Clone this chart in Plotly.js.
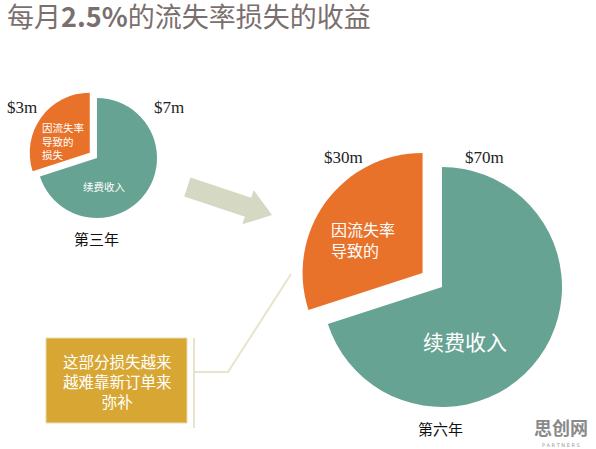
<!DOCTYPE html>
<html>
<head>
<meta charset="utf-8">
<script src="https://cdn.plot.ly/plotly-3.0.1.min.js"></script>
<style>html,body{margin:0;padding:0;background:#fff;}#chart{width:596px;height:449px;}</style>
</head>
<body>
<div id="chart"></div>
<script>
// ---- data ----
const categories = ['续费收入', '因流失率导致的损失'];
const year3Values = [7, 3];      // $m
const year6Values = [70, 30];    // $m
const yearLabels = ['第三年', '第六年'];
const sliceTextSmall = ['续费收入', '因流失率<br>导致的<br>损失'];
const sliceTextLarge = ['续费收入', '因流失率<br>导致的'];
const titleText = '每月<b>2.5%</b>的流失率损失的收益';
const calloutText = '这部分损失越来<br>越难靠新订单来<br>弥补';
const sliceColors = ['#67a393', '#e9722b'];

// ---- layout helpers ----
const W = 596, H = 449;
const px = x => x / W;
const py = y => 1 - y / H;
const fmt = v => '$' + v + 'm';
const CJK = '"Noto Sans CJK SC", "Noto Sans", sans-serif';
const SERIF = '"Liberation Serif", "DejaVu Serif", serif';

function pieDomain(cx, cy, r, pull) {
  const half = r * (1 + pull);
  return { x: [px(cx - half), px(cx + half)], y: [py(cy + half), py(cy - half)] };
}

const pieCommon = {
  type: 'pie',
  labels: categories,
  sort: false,
  direction: 'clockwise',
  rotation: 0,
  textinfo: 'none',
  hoverinfo: 'skip',
  showlegend: false,
  marker: { colors: sliceColors, line: { width: 0 } }
};

const traces = [
  Object.assign({}, pieCommon, {
    values: year3Values,
    pull: [0, 0.15],
    domain: pieDomain(97, 158, 60, 0.15)
  }),
  Object.assign({}, pieCommon, {
    values: year6Values,
    pull: [0, 0.2],
    domain: pieDomain(442, 287, 120, 0.2)
  })
];

function pathFrom(pts, close) {
  return pts.map((p, i) => (i ? 'L' : 'M') + px(p[0]).toFixed(4) + ',' + py(p[1]).toFixed(4)).join(' ') + (close ? ' Z' : '');
}

const arrowPts = [[190.5,177.5],[251.2,197.7],[253.7,190.1],[272,215],[242.3,224.3],[244.9,216.7],[184.2,196.5]];

const shapes = [
  // arrow
  { type: 'path', xref: 'paper', yref: 'paper', path: pathFrom(arrowPts, true),
    fillcolor: '#d5d8c3', line: { width: 0 } },
  // gold box
  { type: 'rect', xref: 'paper', yref: 'paper', x0: px(46), x1: px(187), y0: py(423), y1: py(338),
    fillcolor: '#d8a733', line: { color: '#e9dcae', width: 1 } },
  // connector
  { type: 'line', xref: 'paper', yref: 'paper', x0: px(194), x1: px(194), y0: py(338), y1: py(428),
    line: { color: '#e7e3cd', width: 2 } },
  { type: 'path', xref: 'paper', yref: 'paper', path: pathFrom([[194,372],[228,372],[291,274]], false),
    line: { color: '#e7e3cd', width: 2 } }
];

const annotations = [
  // value labels
  { x: px(22), y: py(108), text: fmt(year3Values[1]), font: { family: SERIF, size: 17, color: '#222' } },
  { x: px(169), y: py(108), text: fmt(year3Values[0]), font: { family: SERIF, size: 17, color: '#222' } },
  { x: px(343), y: py(157), text: fmt(year6Values[1]), font: { family: SERIF, size: 17, color: '#222' } },
  { x: px(484), y: py(157), text: fmt(year6Values[0]), font: { family: SERIF, size: 17, color: '#222' } },
  // small pie inner text
  { x: px(40), y: py(141), xanchor: 'left', align: 'left', text: sliceTextSmall[1],
    font: { family: CJK, size: 10.5, color: '#fff' } },
  { x: px(104), y: py(186), text: sliceTextSmall[0], font: { family: CJK, size: 10.5, color: '#fff' } },
  // large pie inner text
  { x: px(329), y: py(239), xanchor: 'left', align: 'left', text: sliceTextLarge[1],
    font: { family: CJK, size: 16, color: '#fff' } },
  { x: px(465), y: py(341), text: sliceTextLarge[0], font: { family: CJK, size: 21, color: '#fff' } },
  // year labels
  { x: px(97), y: py(238), text: yearLabels[0], font: { family: CJK, size: 15, color: '#111' } },
  { x: px(440), y: py(428), text: yearLabels[1], font: { family: CJK, size: 15, color: '#111' } },
  // callout text
  { x: px(117), y: py(381), text: calloutText, font: { family: CJK, size: 15.5, color: '#fff' } },
  // watermark
  { x: px(561), y: py(427), text: '<b>思创网</b>', font: { family: CJK, size: 18, color: '#8a8a8a' } },
  { x: px(561), y: py(445), text: 'P A R T N E R S', font: { family: 'DejaVu Sans', size: 5, color: '#9a9a9a' } }
].map(a => Object.assign({ xref: 'paper', yref: 'paper', showarrow: false, xanchor: 'center', yanchor: 'middle' }, a));

const layout = {
  width: W, height: H,
  margin: { l: 0, r: 0, t: 0, b: 0 },
  paper_bgcolor: '#ffffff',
  title: { text: titleText, x: px(7), xanchor: 'left', xref: 'paper', y: 1 - 18 / H, yanchor: 'middle',
           font: { family: CJK, size: 27, color: '#7b6f6e' } },
  shapes: shapes,
  annotations: annotations
};

Plotly.newPlot('chart', traces, layout, { displayModeBar: false, staticPlot: true });
</script>
</body>
</html>
